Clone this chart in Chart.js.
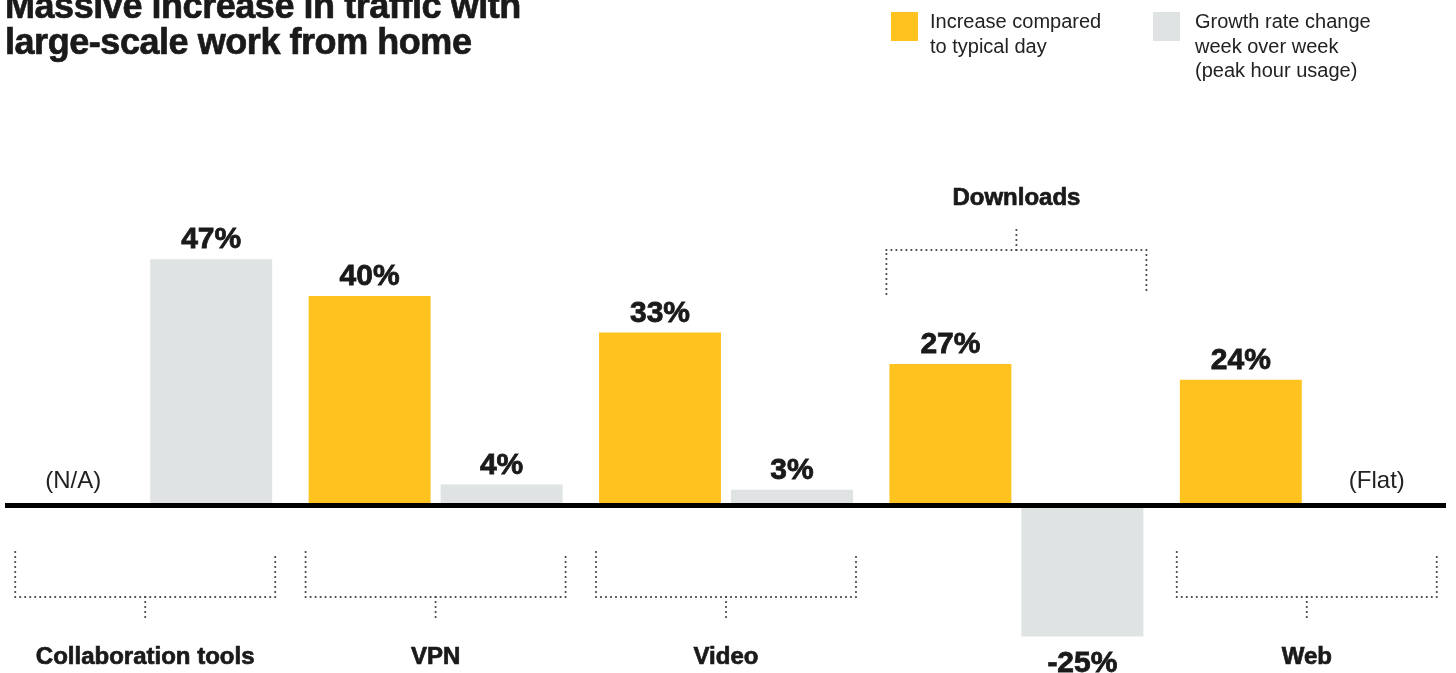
<!DOCTYPE html>
<html>
<head>
<meta charset="utf-8">
<script src="https://cdn.jsdelivr.net/npm/chart.js@4"></script>
<style>
    html, body { margin: 0; padding: 0; background: #fff; overflow: hidden; }
    body { width: 1456px; height: 673px; position: relative; font-family: "Liberation Sans", Arial, sans-serif; color: #1a1a1a; }
    #chart-wrap { position: absolute; left: 0; top: 0; width: 1456px; height: 673px; }
    #title { position: absolute; left: 5px; top: -12px; font-size: 36px; line-height: 36px; font-weight: bold; letter-spacing: -0.45px; white-space: nowrap; -webkit-text-stroke: 0.7px #1a1a1a; }
    .legend-swatch { position: absolute; top: 12px; width: 27px; height: 29px; }
    .legend-text { position: absolute; top: 9px; font-size: 20px; line-height: 24.5px; color: #222; white-space: nowrap; }
</style>
</head>
<body>
<div id="chart-wrap"><canvas id="traffic-chart"></canvas></div>
<div id="title">Massive increase in traffic with<br>large-scale work from home</div>
<div class="legend-swatch" style="left:891px;background:#FFC21F"></div>
<div class="legend-text" style="left:930px">Increase compared<br>to typical day</div>
<div class="legend-swatch" style="left:1153px;background:#E0E3E3"></div>
<div class="legend-text" style="left:1195px">Growth rate change<br>week over week<br>(peak hour usage)</div>

<script>
const categories = ['Collaboration tools', 'VPN', 'Video', 'Downloads', 'Web'];
const increase = [null, 40, 33, 27, 24];
const growth = [47, 4, 3, -25, null];
const increaseNotes = ['(N/A)', '', '', '', ''];
const growthNotes = ['', '', '', '', '(Flat)'];
const bracketAbove = [false, false, false, true, false];

const YELLOW = '#FFC21F';
const GREY = '#E0E3E3';
const INK = '#1a1a1a';

function dotted(ctx, x1, y1, x2, y2) {
    ctx.beginPath();
    ctx.moveTo(x1, y1);
    ctx.lineTo(x2, y2);
    ctx.stroke();
}

// heavy text: fill plus a thin stroke to get closer to the black grotesk
function heavyText(ctx, text, x, y) {
    ctx.fillText(text, x, y);
    ctx.strokeText(text, x, y);
}

// baseline, value labels, brackets and category names
const annotations = {
    id: 'annotations',
    afterDatasetsDraw(chart) {
        const ctx = chart.ctx;
        const xs = chart.scales.x;
        ctx.save();

        ctx.fillStyle = '#000';
        ctx.fillRect(5, 503, 1441, 5);

        ctx.textAlign = 'center';
        ctx.textBaseline = 'alphabetic';
        ctx.strokeStyle = INK;
        ctx.lineWidth = 0.8;
        chart.data.datasets.forEach((ds, di) => {
            const meta = chart.getDatasetMeta(di);
            meta.data.forEach((bar, i) => {
                const v = ds.data[i];
                if (v === null) {
                    ctx.fillStyle = '#222';
                    ctx.font = '24px "Liberation Sans"';
                    ctx.fillText(ds.notes[i], bar.x + (di === 0 ? -6 : 4), 488);
                } else {
                    ctx.fillStyle = INK;
                    ctx.font = 'bold 30px "Liberation Sans"';
                    const y = v >= 0 ? bar.y - 11 : bar.y + 36;
                    heavyText(ctx, v + '%', bar.x, y);
                }
            });
        });

        ctx.strokeStyle = '#444';
        ctx.lineWidth = 2.2;
        ctx.lineCap = 'round';
        ctx.setLineDash([0, 5]);
        categories.forEach((name, i) => {
            const cx = xs.getPixelForValue(i);
            const l = cx - 130, r = cx + 130;
            if (bracketAbove[i]) {
                dotted(ctx, l, 294, l, 250);
                dotted(ctx, l, 250, r, 250);
                dotted(ctx, r, 250, r, 294);
                dotted(ctx, cx, 250, cx, 226);
            } else {
                dotted(ctx, l, 552, l, 597);
                dotted(ctx, l, 597, r, 597);
                dotted(ctx, r, 597, r, 552);
                dotted(ctx, cx, 597, cx, 621);
            }
        });
        ctx.setLineDash([]);

        ctx.fillStyle = INK;
        ctx.strokeStyle = INK;
        ctx.lineWidth = 0.7;
        ctx.lineCap = 'butt';
        ctx.font = 'bold 24px "Liberation Sans"';
        categories.forEach((name, i) => {
            const cx = xs.getPixelForValue(i);
            heavyText(ctx, name, cx, bracketAbove[i] ? 205 : 664);
        });

        ctx.restore();
    }
};

new Chart(document.getElementById('traffic-chart'), {
    type: 'bar',
    data: {
        labels: categories,
        datasets: [
            { label: 'Increase compared to typical day', data: increase, notes: increaseNotes, backgroundColor: YELLOW },
            { label: 'Growth rate change week over week (peak hour usage)', data: growth, notes: growthNotes, backgroundColor: GREY }
        ]
    },
    options: {
        responsive: true,
        maintainAspectRatio: false,
        animation: false,
        categoryPercentage: 0.909,
        barPercentage: 0.924,
        layout: { padding: { left: 0, right: 4, top: 0, bottom: 0 } },
        plugins: { legend: { display: false }, tooltip: { enabled: false } },
        scales: {
            x: { display: false },
            y: { display: false, min: -31.97, max: 96.47 }
        }
    },
    plugins: [annotations]
});
</script>
</body>
</html>
